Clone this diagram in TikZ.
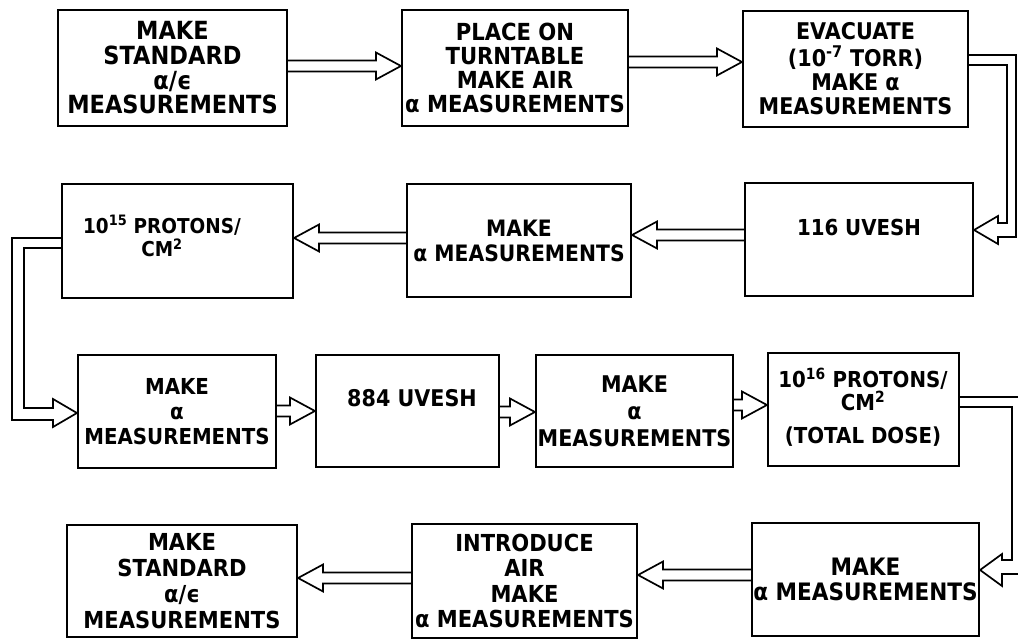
\documentclass[tikz,border=0pt]{standalone}
\usepackage{fontspec}
\setmainfont{DejaVu Sans}[FakeStretch=0.9]
\usetikzlibrary{calc}
\tikzset{
  box/.style={draw, line width=2.1pt, inner sep=0pt, align=center},
  conn/.style={line width=1.7pt, line join=miter},
  lbl/.style={inner sep=0pt, align=center},
}
\newcommand{\fs}[2]{\fontsize{#1}{#2}\selectfont\bfseries}
% hollow arrow to the right: from node #1 (east) to node #2 (west) at height #3
\newcommand{\arrR}[3]{\draw[conn] let \p1=(#1.east),\p2=(#2.west) in
  (\x1,#3pt+5.5pt) -- (\x2-25pt,#3pt+5.5pt) -- (\x2-25pt,#3pt+13.5pt) -- (\x2,#3pt)
  -- (\x2-25pt,#3pt-13.5pt) -- (\x2-25pt,#3pt-5.5pt) -- (\x1,#3pt-5.5pt);}
% hollow arrow to the left
\newcommand{\arrL}[3]{\draw[conn] let \p1=(#1.west),\p2=(#2.east) in
  (\x1,#3pt+5.5pt) -- (\x2+25pt,#3pt+5.5pt) -- (\x2+25pt,#3pt+13.5pt) -- (\x2,#3pt)
  -- (\x2+25pt,#3pt-13.5pt) -- (\x2+25pt,#3pt-5.5pt) -- (\x1,#3pt-5.5pt);}
\begin{document}
\begin{tikzpicture}[x=1pt,y=1pt]
\fill[white] (0,0) rectangle (1018,640);
\useasboundingbox (0,0) rectangle (1018,640);

% Row 1
\node[box, minimum width=229pt, minimum height=116pt, font=\fs{25}{24.7}] (B1) at (172.5,572) {MAKE\\STANDARD\\α/ϵ\\MEASUREMENTS};
\node[box, minimum width=226pt, minimum height=116pt, font=\fs{23.5}{24.3}] (B2) at (515,572) {PLACE ON\\TURNTABLE\\MAKE AIR\\α MEASUREMENTS};
\node[box, minimum width=225pt, minimum height=116pt, font=\fs{23}{24}] (B3) at (855.5,571) {EVACUATE\\[3pt](10\textsuperscript{-7} TORR)\\MAKE α\\MEASUREMENTS};

% Row 2
\node[box, minimum width=231pt, minimum height=114pt] (R2a) at (177.5,399) {};
\node[lbl, font=\fs{20.5}{23.5}] (R2at) at (162,404) {10\textsuperscript{15} PROTONS/\\CM\textsuperscript{2}};
\node[box, minimum width=224pt, minimum height=113pt, font=\fs{22.6}{25}] (R2b) at (519,399.5) {MAKE\\α MEASUREMENTS};
\node[box, minimum width=228pt, minimum height=113pt] (R2c) at (859,400.5) {};
\node[lbl, font=\fs{22}{24}] (R2ct) at (859,413) {116 UVESH};

% Row 3
\node[box, minimum width=198pt, minimum height=113pt, font=\fs{22}{25}] (R3a) at (177,228.5) {MAKE\\α\\MEASUREMENTS};
\node[box, minimum width=183pt, minimum height=112pt] (R3b) at (407.5,229) {};
\node[lbl, font=\fs{23}{24}] (R3bt) at (412,242) {884 UVESH};
\node[box, minimum width=197pt, minimum height=112pt, font=\fs{23}{27}] (R3c) at (634.5,229) {MAKE\\α\\MEASUREMENTS};
\node[box, minimum width=191pt, minimum height=113pt] (R3d) at (863.5,230.5) {};
\node[lbl, font=\fs{22}{23.5}] (R3dt) at (863,233) {10\textsuperscript{16} PROTONS/\\CM\textsuperscript{2}\\[9pt](TOTAL DOSE)};

% Row 4
\node[box, minimum width=230pt, minimum height=112pt, font=\fs{23.4}{26}] (R4a) at (182,59) {MAKE\\STANDARD\\α/ϵ\\MEASUREMENTS};
\node[box, minimum width=225pt, minimum height=114pt, font=\fs{23.4}{25.5}] (R4b) at (524.5,59) {INTRODUCE\\AIR\\MAKE\\α MEASUREMENTS};
\node[box, minimum width=227pt, minimum height=113pt, font=\fs{24}{25}] (R4c) at (865.5,60.5) {MAKE\\α MEASUREMENTS};

% straight hollow arrows
\arrR{B1}{B2}{574}
\arrR{B2}{B3}{578}
\arrL{R2c}{R2b}{405}
\arrL{R2b}{R2a}{402}
\arrR{R3a}{R3b}{229}
\arrR{R3b}{R3c}{228}
\arrR{R3c}{R3d}{235}
\arrL{R4c}{R4b}{65}
\arrL{R4b}{R4a}{62}

% bent hollow arrows
\draw[conn] let \p1=(B3.east), \p2=(R2c.east) in
  (\x1,585) -- (1016,585) -- (1016,403) -- (998,403) -- (998,396) -- (\x2,410)
  -- (998,424) -- (998,417) -- (1007,417) -- (1007,575) -- (\x1,575);
\draw[conn] let \p1=(R2a.west), \p2=(R3a.west) in
  (\x1,402) -- (12,402) -- (12,220) -- (53,220) -- (53,213) -- (\x2,227)
  -- (53,241) -- (53,232) -- (24,232) -- (24,392) -- (\x1,392);
\draw[conn] let \p1=(R3d.east), \p2=(R4c.east) in
  (\x1,243) -- (1021,243) -- (1021,66) -- (1002,66) -- (1002,54) -- (\x2,70)
  -- (1002,86) -- (1002,80) -- (1012,80) -- (1012,233) -- (\x1,233);
\end{tikzpicture}
\end{document}
